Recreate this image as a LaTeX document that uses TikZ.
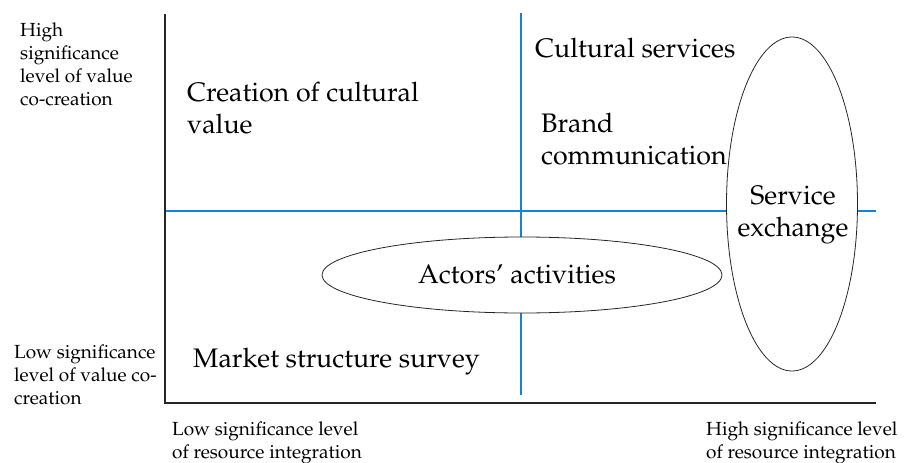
\documentclass[tikz,border=0pt]{standalone}
\usepackage[T1]{fontenc}
\usepackage{mathpazo}
\usetikzlibrary{shapes.geometric}
\definecolor{gridblue}{RGB}{20,130,215}
\begin{document}
\begin{tikzpicture}[x=1pt,y=-1pt,
  axis/.style={draw=black!85,line width=1.1pt},
  grid/.style={draw=gridblue,line width=1.2pt},
  oval/.style={ellipse,draw=black!85,line width=0.8pt,fill=white,inner sep=0pt},
  big/.style={font=\fontsize{26.8}{32}\selectfont,align=left,inner sep=0pt},
  small/.style={font=\fontsize{19}{23}\selectfont,align=left,inner sep=0pt}]
\useasboundingbox (0,0) rectangle (906,463);
% quadrant lines
\draw[grid] (521,13) -- (521,395);
\draw[grid] (165,211) -- (876,211);
% axes
\draw[axis] (165,14) -- (165,403) -- (876,403);
% ovals
\node[oval,minimum width=400pt,minimum height=76pt] (act) at (522,275) {};
\node[big,anchor=base] (actt) at (517,283) {Actors' activities};
\node[oval,minimum width=131pt,minimum height=334pt] (svc) at (792,204) {};
\node[big,align=center,anchor=base] (svct) at (793,236) {Service\\exchange};
% quadrant texts (anchored at the baseline of the last line)
\node[big,anchor=base west] (cult) at (187,133) {Creation of cultural\\value};
\node[big,anchor=base west] (cs) at (535,57) {Cultural services};
\node[big,anchor=base west] (brand) at (541,164) {Brand\\communication};
\node[big,anchor=base west] (mkt) at (193,367) {Market structure survey};
% axis labels
\node[small,anchor=base west] (hv) at (20,105) {High\\significance\\level of value\\co-creation};
\node[small,anchor=base west] (lv) at (14,404) {Low significance\\level of value co-\\creation};
\node[small,anchor=base west] (lr) at (172,458) {Low significance level\\of resource integration};
\node[small,anchor=base west] (hr) at (706,458) {High significance level\\of resource integration};
\end{tikzpicture}
\end{document}
